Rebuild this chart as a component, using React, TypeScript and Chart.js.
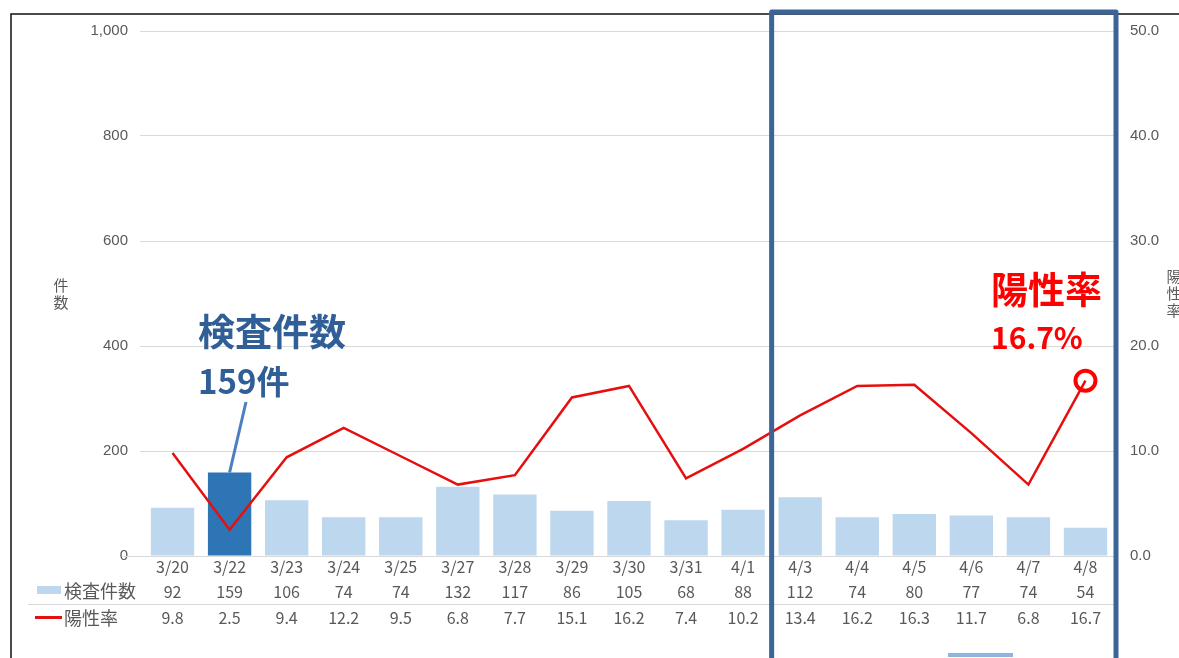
import React, { useEffect, useRef } from 'react';
import { Chart, registerables } from 'chart.js';

Chart.register(...registerables);

const dates = ['3/20', '3/22', '3/23', '3/24', '3/25', '3/27', '3/28', '3/29', '3/30', '3/31', '4/1', '4/3', '4/4', '4/5', '4/6', '4/7', '4/8'];
const testCounts = [92, 159, 106, 74, 74, 132, 117, 86, 105, 68, 88, 112, 74, 80, 77, 74, 54];
const positiveRates = [9.8, 2.5, 9.4, 12.2, 9.5, 6.8, 7.7, 15.1, 16.2, 7.4, 10.2, 13.4, 16.2, 16.3, 11.7, 6.8, 16.7];

const highlightIndex = 1;
const boxFrom = '4/3';
const boxTo = '4/8';

const countLabel = '検査件数';
const rateLabel = '陽性率';

const LIGHT_BLUE = '#bdd7ee';
const DARK_BLUE = '#2e75b6';
const RED = '#e60f0f';
const GRAY = '#595959';
const JP = '"Noto Sans CJK JP", "Noto Sans", sans-serif';
const NUM = '"Liberation Sans", Arial, sans-serif';

// table rows, frame and callouts drawn straight on the canvas
const overlay = {
  id: 'overlay',
  afterDraw(chart: Chart) {
    const { ctx, chartArea } = chart;
    const x = chart.scales.x;
    const y1 = chart.scales.y1;
    ctx.save();

    // outer frame
    ctx.strokeStyle = '#111';
    ctx.lineWidth = 1.5;
    ctx.beginPath();
    ctx.moveTo(11, 658);
    ctx.lineTo(11, 14);
    ctx.lineTo(1179, 14);
    ctx.stroke();

    // zero line reaches a bit further left
    ctx.strokeStyle = '#d9d9d9';
    ctx.lineWidth = 1;
    ctx.beginPath();
    ctx.moveTo(123, chartArea.bottom + 0.5);
    ctx.lineTo(chartArea.left, chartArea.bottom + 0.5);
    ctx.stroke();

    // separator between table rows
    ctx.beginPath();
    ctx.moveTo(28, 604.5);
    ctx.lineTo(chartArea.right, 604.5);
    ctx.stroke();

    // legend swatches + row labels
    ctx.fillStyle = LIGHT_BLUE;
    ctx.fillRect(37, 586, 24, 8);
    ctx.fillStyle = RED;
    ctx.fillRect(35, 616, 27, 3);
    ctx.fillStyle = GRAY;
    ctx.font = `18px ${JP}`;
    ctx.textAlign = 'left';
    ctx.textBaseline = 'middle';
    ctx.fillText(countLabel, 64, 591);
    ctx.fillText(rateLabel, 64, 618);

    // table values
    ctx.font = `16px ${JP}`;
    ctx.textAlign = 'center';
    dates.forEach((_, i) => {
      const px = x.getPixelForValue(i);
      ctx.fillText(String(testCounts[i]), px, 592);
      ctx.fillText(positiveRates[i].toFixed(1), px, 618);
    });

    // axis titles
    ctx.font = `15px ${JP}`;
    ['件', '数'].forEach((c, i) => ctx.fillText(c, 61, 285 + i * 17));
    ['陽', '性', '率'].forEach((c, i) => ctx.fillText(c, 1174, 276 + i * 17));

    // callout: test count
    const hx = x.getPixelForValue(highlightIndex);
    const hy = chart.scales.y.getPixelForValue(testCounts[highlightIndex]);
    ctx.strokeStyle = '#4a7fc1';
    ctx.lineWidth = 3;
    ctx.beginPath();
    ctx.moveTo(246, 402);
    ctx.lineTo(hx, hy);
    ctx.stroke();
    ctx.fillStyle = '#2f5f96';
    ctx.font = `bold 37px ${JP}`;
    ctx.textAlign = 'left';
    ctx.fillText(countLabel, 198, 332);
    ctx.font = `bold 33px ${JP}`;
    ctx.fillText(`${testCounts[highlightIndex]}件`, 198, 381);

    // callout: positive rate
    const last = positiveRates.length - 1;
    const lx = x.getPixelForValue(last);
    const ly = y1.getPixelForValue(positiveRates[last]);
    ctx.fillStyle = '#ff0000';
    ctx.font = `bold 37px ${JP}`;
    ctx.fillText(rateLabel, 991, 290);
    ctx.font = `bold 30px ${JP}`;
    ctx.fillText(`${positiveRates[last]}%`, 991, 338);
    ctx.strokeStyle = '#ff0000';
    ctx.lineWidth = 4;
    ctx.beginPath();
    ctx.arc(lx, ly, 10, 0, Math.PI * 2);
    ctx.stroke();

    // highlight box around the last week
    const half = (x.getPixelForValue(1) - x.getPixelForValue(0)) / 2;
    const bx0 = x.getPixelForValue(dates.indexOf(boxFrom)) - half;
    const bx1 = x.getPixelForValue(dates.indexOf(boxTo)) + half + 2;
    ctx.strokeStyle = '#3b6598';
    ctx.lineWidth = 5;
    ctx.lineJoin = 'round';
    ctx.beginPath();
    ctx.moveTo(bx0, 670);
    ctx.lineTo(bx0, 12);
    ctx.lineTo(bx1, 12);
    ctx.lineTo(bx1, 670);
    ctx.stroke();

    // stray legend fragment at the very bottom
    ctx.fillStyle = '#8eb4e3';
    ctx.fillRect(948, 653, 65, 4);

    ctx.restore();
  },
};

export default function App() {
  const canvasRef = useRef<HTMLCanvasElement>(null);
  const chartRef = useRef<Chart | null>(null);

  useEffect(() => {
    if (!canvasRef.current) return;
    if (chartRef.current) chartRef.current.destroy();

    chartRef.current = new Chart(canvasRef.current, {
      type: 'bar',
      data: {
        labels: dates,
        datasets: [
          {
            type: 'line',
            label: rateLabel,
            data: positiveRates,
            yAxisID: 'y1',
            borderColor: RED,
            borderWidth: 2.5,
            pointRadius: 0,
            tension: 0,
            order: 0,
          },
          {
            type: 'bar',
            label: countLabel,
            data: testCounts,
            yAxisID: 'y',
            backgroundColor: testCounts.map((_, i) => (i === highlightIndex ? DARK_BLUE : LIGHT_BLUE)),
            barPercentage: 0.76,
            categoryPercentage: 1,
            order: 1,
          },
        ],
      },
      options: {
        responsive: false,
        animation: false,
        layout: { padding: { top: 31, bottom: 0, left: 0, right: 0 } },
        plugins: {
          legend: { display: false },
          tooltip: { enabled: false },
        },
        scales: {
          x: {
            grid: { display: false, drawTicks: false },
            border: { display: false },
            ticks: { color: GRAY, font: { family: JP, size: 16 }, padding: 1, maxRotation: 0, autoSkip: false },
            afterFit: (s: any) => { s.height = 102; },
          },
          y: {
            position: 'left',
            min: 0,
            max: 1000,
            ticks: {
              stepSize: 200,
              color: GRAY,
              font: { family: NUM, size: 15 },
              padding: 12,
              callback: (v: any) => Number(v).toLocaleString('en-US'),
            },
            grid: { color: '#d9d9d9', tickLength: 4, drawTicks: true },
            border: { display: false },
            afterFit: (s: any) => { s.width = 144; },
          },
          y1: {
            position: 'right',
            min: 0,
            max: 50,
            ticks: {
              stepSize: 10,
              color: GRAY,
              font: { family: NUM, size: 15 },
              padding: 16,
              callback: (v: any) => Number(v).toFixed(1),
            },
            grid: { display: false, drawTicks: false },
            border: { display: false },
            afterFit: (s: any) => { s.width = 65; },
          },
        },
      },
      plugins: [overlay],
    });

    return () => {
      if (chartRef.current) {
        chartRef.current.destroy();
        chartRef.current = null;
      }
    };
  }, []);

  return (
    <div style={{ position: 'fixed', left: 0, top: 0, width: 1179, height: 658, background: '#fff', overflow: 'hidden' }}>
      <canvas ref={canvasRef} width={1179} height={658} style={{ width: 1179, height: 658 }} />
    </div>
  );
}
